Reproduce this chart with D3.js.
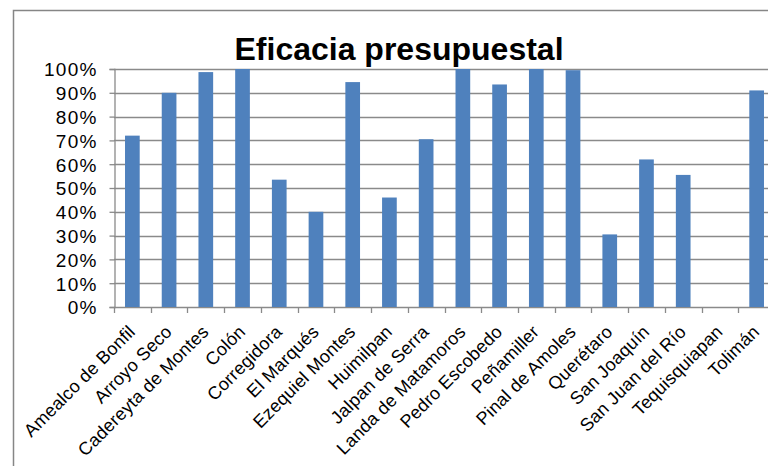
<!DOCTYPE html>
<html>
<head>
<meta charset="utf-8">
<script src="https://cdn.jsdelivr.net/npm/d3@7"></script>
<style>
  body { margin: 0; background: #fff; }
  svg { display: block; font-family: "Liberation Sans", Arial, sans-serif; }
</style>
</head>
<body>
<div id="chart"></div>
<script>
var categories = ["Amealco de Bonfil", "Arroyo Seco", "Cadereyta de Montes", "Colón",
    "Corregidora", "El Marqués", "Ezequiel Montes", "Huimilpan", "Jalpan de Serra",
    "Landa de Matamoros", "Pedro Escobedo", "Peñamiller", "Pinal de Amoles", "Querétaro",
    "San Joaquín", "San Juan del Río", "Tequisquiapan", "Tolimán"];
var eficacia = [72, 90, 98.7, 100, 53.5, 40, 94.5, 46, 70.5, 100, 93.5, 100, 99.5, 30.5, 62, 55.5, 0, 91];
var yTicks = [0, 10, 20, 30, 40, 50, 60, 70, 80, 90, 100];
var title = "Eficacia presupuestal";

(function () {
    var width = 768, height = 466;
    var pLeft = 114, pRight = 775, pTop = 69, pBottom = 307;

    var svg = d3.select("#chart").append("svg").attr("width", width).attr("height", height);

    // outer chart frame (cut off at right and bottom)
    svg.append("path")
        .attr("d", "M13.5," + height + "V10.5H" + width)
        .attr("fill", "none").attr("stroke", "#868686").attr("stroke-width", 1.5);

    var x = d3.scaleBand().domain(categories).range([pLeft, pRight]).paddingInner(0.6).paddingOuter(0.3);
    var xEdge = d3.scaleBand().domain(categories).range([pLeft, pRight]).padding(0);
    var y = d3.scaleLinear().domain([0, 100]).range([pBottom, pTop]);

    // gridlines
    svg.append("g").selectAll("line").data(yTicks).enter().append("line")
        .attr("x1", pLeft).attr("x2", pRight)
        .attr("y1", function(d){ return Math.round(y(d)) + 0.5; })
        .attr("y2", function(d){ return Math.round(y(d)) + 0.5; })
        .attr("stroke", "#8a8a8a").attr("stroke-width", 1.3);

    // bars
    svg.append("g").selectAll("rect").data(eficacia).enter().append("rect")
        .attr("x", function(d, i){ return x(categories[i]); })
        .attr("y", function(d){ return y(d); })
        .attr("width", x.bandwidth())
        .attr("height", function(d){ return pBottom - y(d); })
        .attr("fill", "#4f81bd");

    // y axis
    var yAxis = svg.append("g").attr("transform", "translate(" + (pLeft + 0.5) + ",0)")
        .call(d3.axisLeft(y).tickValues(yTicks).tickSize(5).tickPadding(12)
            .tickFormat(function(d){ return d + "%"; }));
    yAxis.selectAll("path, line").attr("stroke", "#8a8a8a").attr("stroke-width", 1.3);
    yAxis.selectAll("text").attr("font-size", 19).attr("fill", "#000")
        .attr("letter-spacing", 1.2)
        .attr("font-family", "Liberation Sans, Arial, sans-serif").attr("dy", "0.36em");

    // x axis: tick marks between categories
    var edges = categories.map(function(c){ return xEdge(c); }).concat([pRight]);
    svg.append("g").selectAll("line").data(edges).enter().append("line")
        .attr("x1", function(d){ return Math.round(d) + 0.5; })
        .attr("x2", function(d){ return Math.round(d) + 0.5; })
        .attr("y1", pBottom).attr("y2", pBottom + 6)
        .attr("stroke", "#8a8a8a").attr("stroke-width", 1.3);

    svg.append("g").selectAll("text").data(categories).enter().append("text")
        .attr("transform", function(d){
            return "translate(" + (x(d) + x.bandwidth() / 2 - 5) + "," + (pBottom + 17) + ") rotate(-45)";
        })
        .attr("text-anchor", "end")
        .attr("dy", "0.7em")
        .attr("font-size", 18)
        .attr("letter-spacing", 0.2)
        .text(function(d){ return d; });

    // title
    svg.append("text")
        .attr("x", 399).attr("y", 60)
        .attr("text-anchor", "middle")
        .attr("font-size", 32).attr("font-weight", "bold")
        .text(title);
})();
</script>
</body>
</html>
